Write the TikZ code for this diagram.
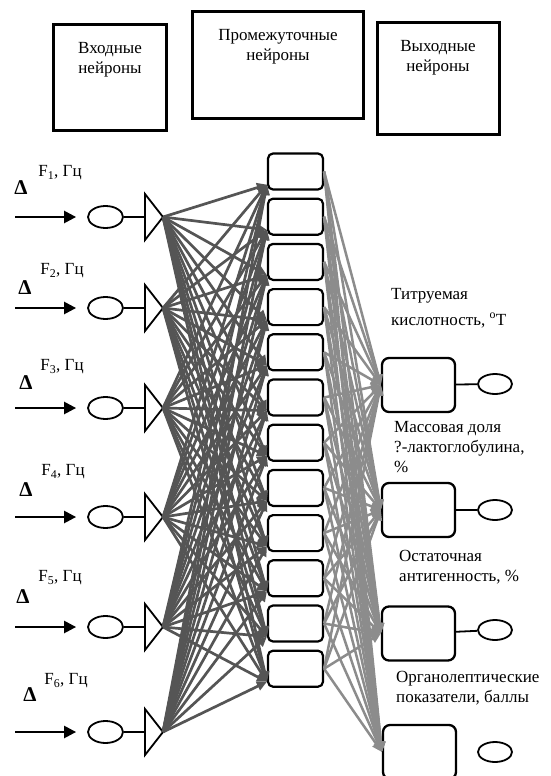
\documentclass[tikz,border=0pt]{standalone}
\usepackage{fontspec}
\setmainfont{Liberation Serif}
\usetikzlibrary{arrows.meta,shapes.geometric}
\definecolor{ihcol}{HTML}{555555}
\definecolor{hocol}{HTML}{8C8C8C}
\begin{document}
\begin{tikzpicture}[x=1pt,y=-1pt,
  font=\fontsize{17}{20}\selectfont,
  hdrbox/.style={draw,line width=3pt,inner sep=0pt},
  hidbox/.style={draw,line width=2.2pt,rounded corners=5pt,fill=white,minimum width=55pt,minimum height=36pt,inner sep=0pt},
  outbox/.style={draw,line width=2.3pt,rounded corners=7pt,fill=white,minimum width=73pt,minimum height=54pt,inner sep=0pt},
  neuron/.style={draw,ellipse,line width=1.8pt,minimum width=35pt,minimum height=22pt,inner sep=0pt},
  outneuron/.style={draw,ellipse,line width=1.8pt,minimum width=34pt,minimum height=20pt,inner sep=0pt},
  inarrow/.style={line width=2.4pt,-{Triangle[length=12pt,width=12pt]}},
  link/.style={line width=1.8pt},
  tri/.style={line width=1.8pt,line join=miter},
  ih/.style={draw=ihcol,line width=2.7pt,-{Triangle[length=10pt,width=9pt]}},
  ho/.style={draw=hocol,line width=2.5pt,-{Triangle[length=10pt,width=9pt]}},
  lbl/.style={inner sep=0pt},
  dlt/.style={inner sep=0pt,font=\fontsize{21}{22}\selectfont\bfseries},
]
\useasboundingbox (0,0) rectangle (551,776);

% header boxes
\node[hdrbox,minimum width=113pt,minimum height=105pt] (hb1) at (109.5,77.5) {};
\node[hdrbox,minimum width=171pt,minimum height=106pt] (hb2) at (277.5,65) {};
\node[hdrbox,minimum width=122pt,minimum height=111pt] (hb3) at (438,78.5) {};
\node[lbl,align=center] (ht1) at (110,60) {Входные\\нейроны};
\node[lbl,align=center] (ht2) at (278,47) {Промежуточные\\нейроны};
\node[lbl,align=center] (ht3) at (438,58) {Выходные\\нейроны};

% hidden neurons
\foreach \j in {1,...,12}
  \node[hidbox] (h\j) at (295.5,{171.5+45.2*(\j-1)}) {};

% output neurons
\node[outbox] (o1) at (418.5,385) {};
\node[outbox] (o2) at (418.5,510) {};
\node[outbox] (o3) at (418.5,633.5) {};
\node[outbox] (o4) at (419.5,752) {};
\node[outneuron] (on1) at (495,384) {};
\node[outneuron] (on2) at (495,510) {};
\node[outneuron] (on3) at (495,630) {};
\node[outneuron] (on4) at (495,752) {};
\draw[link] (o1) -- (on1);
\draw[link] (o2) -- (on2);
\draw[link] (o3) -- (on3);

% input rows
\foreach \i/\y in {1/217,2/308,3/408,4/517,5/627,6/732}{
  \coordinate (s\i) at (15,\y);
  \node[neuron] (e\i) at (105.5,\y) {};
  \coordinate (tb\i) at (145,\y);
  \coordinate (t\i) at (163,\y);
  \draw[inarrow,shorten >=11pt] (s\i) -- (e\i);
  \draw[link] (e\i) -- (tb\i);
  \draw[tri,fill=white] (145,\y-23) -- (t\i) -- (145,\y+23) -- cycle;
}

% input labels
\node[dlt] (d1) at (21,188) {Δ};
\node[dlt] (d2) at (25,288) {Δ};
\node[dlt] (d3) at (26,383) {Δ};
\node[dlt] (d4) at (26,490) {Δ};
\node[dlt] (d5) at (23,597) {Δ};
\node[dlt] (d6) at (30,695) {Δ};
\node[lbl] (f1) at (60,173) {F\textsubscript{1}, Гц};
\node[lbl] (f2) at (62,271) {F\textsubscript{2}, Гц};
\node[lbl] (f3) at (62,367) {F\textsubscript{3}, Гц};
\node[lbl] (f4) at (63,472) {F\textsubscript{4}, Гц};
\node[lbl] (f5) at (60,578) {F\textsubscript{5}, Гц};
\node[lbl] (f6) at (66,681) {F\textsubscript{6}, Гц};

% connections input -> hidden
\foreach \i in {1,...,6}
  \foreach \j in {1,...,12}
    \draw[ih] (t\i) -- ([yshift=6pt]h\j.south west);

% connections hidden -> output
\foreach \j in {1,...,12}
  \foreach \k in {1,...,4}
    \draw[ho] (h\j.east) -- (o\k.west);

% output labels
\node[lbl,anchor=west,align=left] (l1) at (391,308) {Титруемая\\[6pt]кислотность, \textsuperscript{o}Т};
\node[lbl,anchor=west,align=left] (l2) at (394,447) {Массовая доля\\?-лактоглобулина,\\\%};
\node[lbl,anchor=west,align=left] (l3) at (399,567) {Остаточная\\антигенность, \%};
\node[lbl,anchor=west,align=left] (l4) at (396,688) {Органолептические\\показатели, баллы};
\end{tikzpicture}
\end{document}
